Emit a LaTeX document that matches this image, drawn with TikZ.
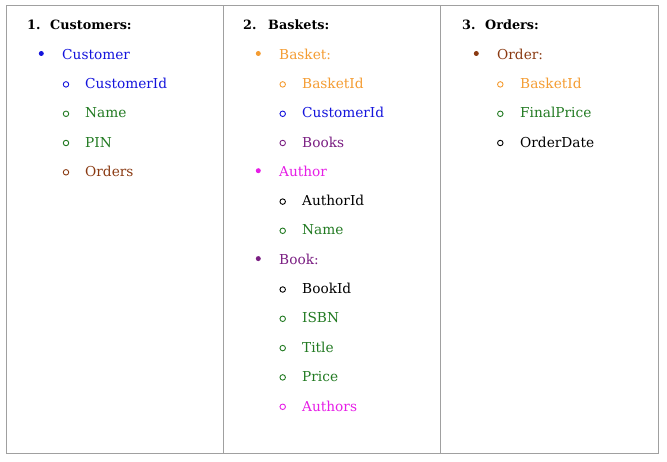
\documentclass[tikz,border=0pt]{standalone}
\usepackage{fontspec}
\setmainfont{DejaVu Serif}
\definecolor{cblue}{HTML}{1414DC}
\definecolor{cgreen}{HTML}{227A22}
\definecolor{cbrown}{HTML}{8A3A12}
\definecolor{corange}{HTML}{F49C32}
\definecolor{cpurple}{HTML}{7A1E82}
\definecolor{cmagenta}{HTML}{E61EE6}
\definecolor{cgrid}{HTML}{A0A0A0}
\begin{document}
\begin{tikzpicture}[x=1pt,y=-1pt,
  txt/.style={anchor=base west,inner sep=0pt,font=\fontsize{13.7}{16}\selectfont},
  hd/.style={anchor=base west,inner sep=0pt,font=\fontsize{12.8}{16}\selectfont\bfseries},
  bdot/.style={circle,fill,inner sep=0pt,minimum size=5pt},
  ring/.style={circle,draw,line width=0.9pt,inner sep=0pt,minimum size=5.5pt},
  gridline/.style={draw=cgrid,line width=1pt}]
\useasboundingbox (0,0) rectangle (667,462);
% table
\draw[gridline] (6.5,5.5) rectangle (658.5,453.5);
\draw[gridline] (223.5,5.5) -- (223.5,453.5);
\draw[gridline] (440.5,5.5) -- (440.5,453.5);
% column 1
\node[hd] (n1) at (27,30) {1.};
\node[hd] (h1) at (50,30) {Customers:};
\node[bdot,cblue] (d11) at (41.3,53.5) {};
\node[txt,cblue] (t11) at (62,59.3) {Customer};
\node[ring,cblue] (r12) at (66,84.4) {};
\node[txt,cblue] (t12) at (85,88.6) {CustomerId};
\node[ring,cgreen] (r13) at (66,113.8) {};
\node[txt,cgreen] (t13) at (85,118) {Name};
\node[ring,cgreen] (r14) at (66,143) {};
\node[txt,cgreen] (t14) at (85,147.2) {PIN};
\node[ring,cbrown] (r15) at (66,172.3) {};
\node[txt,cbrown] (t15) at (85,176.5) {Orders};
% column 2
\node[hd] (n2) at (243,30) {2.};
\node[hd] (h2) at (268,30) {Baskets:};
\node[bdot,corange] (d21) at (258.3,53.5) {};
\node[txt,corange] (t21) at (279,59.3) {Basket:};
\node[ring,corange] (r22) at (282.7,84.4) {};
\node[txt,corange] (t22) at (302,88.6) {BasketId};
\node[ring,cblue] (r23) at (282.7,113.8) {};
\node[txt,cblue] (t23) at (302,118) {CustomerId};
\node[ring,cpurple] (r24) at (282.7,143) {};
\node[txt,cpurple] (t24) at (302,147.2) {Books};
\node[bdot,cmagenta] (d25) at (258.3,170.7) {};
\node[txt,cmagenta] (t25) at (279,176.5) {Author};
\node[ring,black] (r26) at (282.7,201.6) {};
\node[txt,black] (t26) at (302,205.8) {AuthorId};
\node[ring,cgreen] (r27) at (282.7,230.8) {};
\node[txt,cgreen] (t27) at (302,235) {Name};
\node[bdot,cpurple] (d28) at (258.3,258.6) {};
\node[txt,cpurple] (t28) at (279,264.4) {Book:};
\node[ring,black] (r29) at (282.7,289.5) {};
\node[txt,black] (t29) at (302,293.7) {BookId};
\node[ring,cgreen] (r210) at (282.7,318.8) {};
\node[txt,cgreen] (t210) at (302,323) {ISBN};
\node[ring,cgreen] (r211) at (282.7,348.1) {};
\node[txt,cgreen] (t211) at (302,352.3) {Title};
\node[ring,cgreen] (r212) at (282.7,377.4) {};
\node[txt,cgreen] (t212) at (302,381.6) {Price};
\node[ring,cmagenta] (r213) at (282.7,406.8) {};
\node[txt,cmagenta] (t213) at (302,411) {Authors};
% column 3
\node[hd] (n3) at (462,30) {3.};
\node[hd] (h3) at (485,30) {Orders:};
\node[bdot,cbrown] (d31) at (476.3,53.5) {};
\node[txt,cbrown] (t31) at (497,59.3) {Order:};
\node[ring,corange] (r32) at (500.3,84.4) {};
\node[txt,corange] (t32) at (520,88.6) {BasketId};
\node[ring,cgreen] (r33) at (500.3,113.8) {};
\node[txt,cgreen] (t33) at (520,118) {FinalPrice};
\node[ring,black] (r34) at (500.3,143) {};
\node[txt,black] (t34) at (520,147.2) {OrderDate};
\end{tikzpicture}
\end{document}
